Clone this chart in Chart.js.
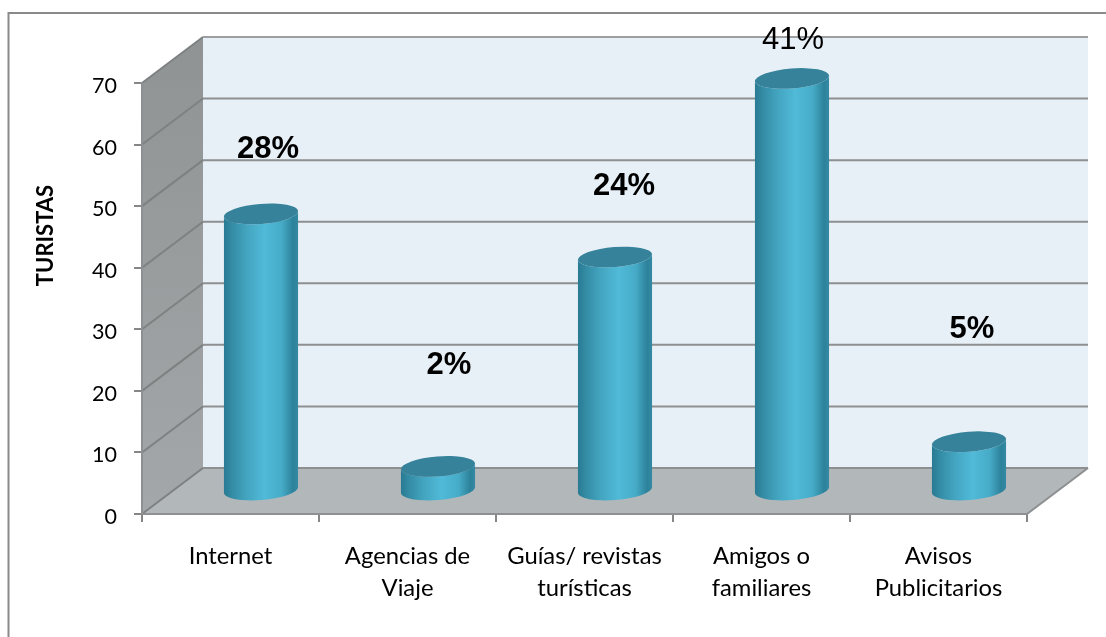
<!DOCTYPE html>
<html><head><meta charset="utf-8">
<style>html,body{margin:0;padding:0;background:#fff}canvas{display:block}</style>
<script src="https://cdn.jsdelivr.net/npm/chart.js@4"></script>
</head><body>
<div style="width:1106px;height:637px;position:relative"><canvas id="c" width="1106" height="637"></canvas></div>
<script>
const categories=[['Internet'],['Agencias de','Viaje'],['Guías/ revistas','turísticas'],['Amigos o','familiares'],['Avisos','Publicitarios']];
const turistas=[45,4,38,67,8];
const percentLabels=['28%','2%','24%','41%','5%'];
const yTicks=[0,10,20,30,40,50,60,70];

const DEPTH_X=61, DEPTH_Y=46;
const LABEL_STYLE=[
 {dx:7,dy:-64,bold:true},{dx:11,dy:-101,bold:true},{dx:9,dy:-71,bold:true},{dx:1,dy:-38,bold:false},{dx:3,dy:-112,bold:true}];

const scene={
 id:'scene',
 beforeDraw(ch){
  const c=ch.ctx,a=ch.chartArea,y=ch.scales.y;
  c.save();
  c.fillStyle='#fff';c.fillRect(0,0,ch.width,ch.height);
  c.strokeStyle='#8a8a8a';c.lineWidth=2;
  c.beginPath();c.moveTo(8.5,637);c.lineTo(8.5,13);c.lineTo(1106,13);c.stroke();
  const L=a.left,R=a.right,T=a.top,B=a.bottom;
  c.fillStyle='#e8f0f7';c.fillRect(L+DEPTH_X,T-DEPTH_Y,R-L,B-T);
  const g=c.createLinearGradient(0,T-DEPTH_Y,0,B);
  g.addColorStop(0,'#8f9394');g.addColorStop(1,'#a3a7a9');
  c.fillStyle=g;c.beginPath();c.moveTo(L,T);c.lineTo(L+DEPTH_X,T-DEPTH_Y);c.lineTo(L+DEPTH_X,B-DEPTH_Y);c.lineTo(L,B);c.closePath();c.fill();
  c.fillStyle='#b2b7ba';c.beginPath();c.moveTo(L,B);c.lineTo(L+DEPTH_X,B-DEPTH_Y);c.lineTo(R+DEPTH_X,B-DEPTH_Y);c.lineTo(R,B);c.closePath();c.fill();
  c.lineWidth=2;
  yTicks.forEach(v=>{
   const p=y.getPixelForValue(v);
   c.strokeStyle='#7e8182';
   c.beginPath();c.moveTo(L,p);c.lineTo(L+DEPTH_X,p-DEPTH_Y);c.stroke();
   if(v<70){c.strokeStyle='#8d8f91';c.beginPath();c.moveTo(L+DEPTH_X,p-DEPTH_Y);c.lineTo(R+DEPTH_X,p-DEPTH_Y);c.stroke();}
  });
  c.strokeStyle='#9c9ea0';c.beginPath();c.moveTo(L+DEPTH_X,T-DEPTH_Y);c.lineTo(R+DEPTH_X,T-DEPTH_Y);c.stroke();
  c.strokeStyle='#8d8f91';c.beginPath();c.moveTo(R,B);c.lineTo(R+DEPTH_X,B-DEPTH_Y);c.stroke();
  c.restore();
 },
 beforeDatasetsDraw(ch){
  const c=ch.ctx,meta=ch.getDatasetMeta(0);
  const ox=DEPTH_X/2,oy=DEPTH_Y/2;
  meta.data.forEach((bar,i)=>{
   const cx=bar.x+ox,top=bar.y-oy,base=bar.base-oy,rx=bar.width/2,ry=10,rot=-0.08;
   c.save();
   const g=c.createLinearGradient(cx-rx,0,cx+rx,0);
   g.addColorStop(0,'#287a92');g.addColorStop(.1,'#338aa3');g.addColorStop(.3,'#43a4bf');
   g.addColorStop(.55,'#50bad8');g.addColorStop(.78,'#46abc7');g.addColorStop(.93,'#2d829b');g.addColorStop(1,'#348aa3');
   c.fillStyle=g;
   c.beginPath();
   c.ellipse(cx,base,rx,ry,rot,0,Math.PI);
   c.ellipse(cx,top,rx,ry,rot,Math.PI,0,true);
   c.closePath();c.fill();
   c.fillStyle='#35829a';
   c.beginPath();c.ellipse(cx,top,rx,ry,rot,0,Math.PI*2);c.fill();
   c.restore();
  });
  return false;
 },
 afterDraw(ch){
  const c=ch.ctx,meta=ch.getDatasetMeta(0);
  c.save();c.fillStyle='#000';c.textAlign='center';c.textBaseline='middle';
  meta.data.forEach((bar,i)=>{
   const s=LABEL_STYLE[i];
   c.font=(s.bold?'bold ':'')+'31px "Liberation Sans"';
   c.fillText(percentLabels[i],bar.x+DEPTH_X/2+s.dx,bar.y-DEPTH_Y/2+s.dy);
  });
  c.restore();
 }
};

new Chart(document.getElementById('c'),{
 type:'bar',
 data:{labels:categories,datasets:[{data:turistas,backgroundColor:'#4bb5d3',categoryPercentage:1,barPercentage:0.42}]},
 options:{
  responsive:false,animation:false,
  layout:{padding:{left:0,right:79,top:83,bottom:0}},
  plugins:{legend:{display:false},tooltip:{enabled:false}},
  scales:{
   x:{grid:{drawOnChartArea:false,color:'#868686',tickLength:8,lineWidth:2},border:{color:'#8d8f91',width:2},
      ticks:{color:'#000',font:{family:'Lato',size:23.8,lineHeight:1.35},padding:18,maxRotation:0,autoSkip:false},
      afterFit(s){s.height=123;}},
   y:{min:0,max:70,afterBuildTicks(s){s.ticks=yTicks.map(v=>({value:v}));},
      grid:{drawOnChartArea:false,color:'#868686',tickLength:8,lineWidth:2},border:{color:'#8d8f91',width:2},
      ticks:{color:'#000',font:{family:'Lato',size:21.5},padding:17},
      title:{display:true,text:'TURISTAS',color:'#000',font:{family:'Lato',size:22,weight:'bold'},padding:{top:33,bottom:0}},
      afterFit(s){
       s.width=142;
       const P=Object.getPrototypeOf(s);
       s.drawTitle=function(){const c=this.ctx;c.save();c.translate(0,-63);P.drawTitle.call(this);c.restore();};
       s.drawLabels=function(a){const c=this.ctx;c.save();c.translate(0,3);P.drawLabels.call(this,a);c.restore();};
      }}
  }
 },
 plugins:[scene]
});
</script>
</body></html>
